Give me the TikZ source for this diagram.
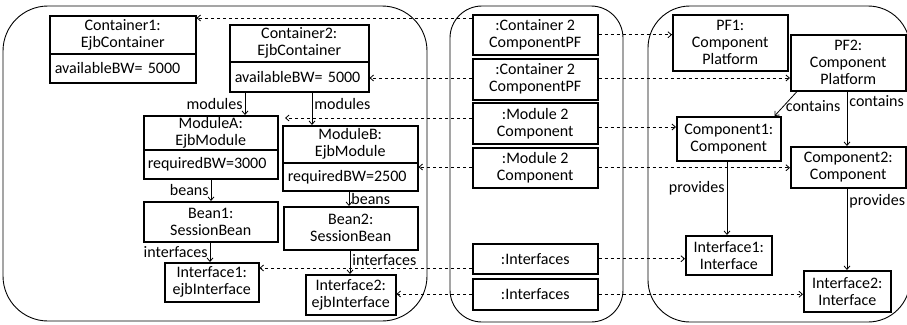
\documentclass[tikz,border=0pt]{standalone}
\usepackage{fontspec}
\setmainfont{Carlito}
\usetikzlibrary{arrows.meta,calc}
\begin{document}
\begin{tikzpicture}[x=1pt,y=-1pt,
  txt/.style={font=\fontsize{16}{17}\selectfont},
  obj/.style={txt, draw, line width=1.5pt, anchor=north west, align=center, inner sep=0pt},
  attr/.style={obj, align=left, inner xsep=5pt},
  panel/.style={draw, line width=0.9pt},
  link/.style={line width=0.8pt, -{Straight Barb[length=3.5pt,width=6pt]}},
  trace/.style={link, dash pattern=on 3.5pt off 2.5pt},
  lbl/.style={txt, inner sep=2pt}
]
\useasboundingbox (0,0) rectangle (907,324);
\clip (0,0) rectangle (907,324);

% three model areas
\draw[panel, rounded corners=45pt] (3,6) rectangle (427,321);
\draw[panel, rounded corners=32pt] (450,6) rectangle (623,322);
\draw[panel, rounded corners=42pt] (648,6) rectangle (910,322);

% EJB model
\node[obj, minimum width=146pt, minimum height=38pt] (c1) at (49,15) {Container1:\\EjbContainer};
\node[attr, text width=136pt, minimum height=29pt] (c1a) at (49,53) {availableBW= 5000};
\node[obj, minimum width=139pt, minimum height=37pt] (c2) at (229,24) {Container2:\\EjbContainer};
\node[attr, text width=129pt, minimum height=30pt] (c2a) at (229,61) {availableBW= 5000};
\node[obj, minimum width=134pt, minimum height=34pt] (mA) at (143,115) {ModuleA:\\EjbModule};
\node[attr, text width=126pt, inner xsep=4pt, minimum height=29pt] (mAa) at (143,149) {requiredBW=3000};
\node[obj, minimum width=135pt, minimum height=37pt] (mB) at (282,125) {ModuleB:\\EjbModule};
\node[attr, text width=125pt, minimum height=28pt] (mBa) at (282,162) {requiredBW=2500};
\node[obj, minimum width=134pt, minimum height=40pt] (b1) at (143,201) {Bean1:\\SessionBean};
\node[obj, minimum width=134pt, minimum height=43pt] (b2) at (283,206) {Bean2:\\SessionBean};
\node[obj, minimum width=94pt, minimum height=39pt] (i1) at (164,262) {Interface1:\\ejbInterface};
\node[obj, minimum width=90pt, minimum height=40pt] (i2) at (305,274) {Interface2:\\ejbInterface};

% trace links
\node[obj, minimum width=125pt, minimum height=40pt] (t1) at (472,14) {:Container 2\\ComponentPF};
\node[obj, minimum width=125pt, minimum height=41pt] (t2) at (472,58) {:Container 2\\ComponentPF};
\node[obj, minimum width=125pt, minimum height=41pt] (t3) at (472,102) {:Module 2\\Component};
\node[obj, minimum width=125pt, minimum height=40pt] (t4) at (472,147) {:Module 2\\Component};
\node[obj, minimum width=125pt, minimum height=30pt] (t5) at (472,243) {:Interfaces};
\node[obj, minimum width=125pt, minimum height=31pt] (t6) at (472,278) {:Interfaces};

% component model
\node[obj, minimum width=115pt, minimum height=56pt] (pf1) at (672,14) {PF1:\\Component\\Platform};
\node[obj, minimum width=115pt, minimum height=56pt] (pf2) at (790,34) {PF2:\\Component\\Platform};
\node[obj, minimum width=104pt, minimum height=44pt] (k1) at (676,116) {Component1:\\Component};
\node[obj, minimum width=115pt, minimum height=41pt] (k2) at (790,146) {Component2:\\Component};
\node[obj, minimum width=86pt, minimum height=39pt] (f1) at (685,235) {Interface1:\\Interface};
\node[obj, minimum width=87pt, minimum height=41pt] (f2) at (803,270) {Interface2:\\Interface};

% containment links, EJB side
\draw[link] (c2a.south -| 245,0) -- (mA.north -| 245,0) node[lbl, midway, anchor=east] {modules};
\draw[link] (c2a.south -| 312,0) -- (mB.north -| 312,0) node[lbl, pos=0.35, anchor=west] {modules};
\draw[link] (mAa.south -| 211,0) -- (b1.north -| 211,0) node[lbl, midway, anchor=east] {beans};
\draw[link] (mBa.south -| 349,0) -- (b2.north -| 349,0) node[lbl, midway, anchor=west] {beans};
\draw[link] (b1.south -| 210,0) -- (i1.north -| 210,0) node[lbl, midway, anchor=east] {interfaces};
\draw[link] (b2.south -| 350,0) -- (i2.north -| 350,0) node[lbl, pos=0.4, anchor=west] {interfaces};

% containment links, component side
\draw[link] ($(pf2.south west)+(7,0)$) -- ($(k1.north east)+(-7,0)$) node[lbl, pos=0.6, anchor=west] {contains};
\draw[link] (pf2.south -| 847,0) -- (k2.north -| 847,0) node[lbl, pos=0.18, anchor=west] {contains};
\draw[link] (k1.south -| 727,0) -- (f1.north -| 727,0) node[lbl, pos=0.37, anchor=east] {provides};
\draw[link] (k2.south -| 847,0) -- (f2.north -| 847,0) node[lbl, pos=0.16, anchor=west] {provides};

% trace references
\coordinate (mtip) at ($(mB.north west)+(3,-7)$);
\draw[trace] (t1.west |- 0,18) -- (c1.east |- 0,18);
\draw[trace] (t1.east) -- (pf1.west |- t1.east);
\draw[trace] (t2.west |- 0,78) -- (c2a.east |- 0,78);
\draw[trace] (t2.east |- 0,78) -- (pf2.west |- 0,78);
\draw[trace] (t3.west |- mtip) -- (mtip);
\draw[trace] (t3.east |- 0,127) -- (k1.west |- 0,127);
\draw[trace] (t4.west |- 0,167) -- (mBa.east |- 0,167);
\draw[trace] (t4.east) -- (k2.west |- t4.east);
\draw[trace] (t5.west |- 0,268) -- (i1.east |- 0,268);
\draw[trace] (t5.east) -- (f1.west |- t5.east);
\draw[trace] (t6.west |- 0,294) -- (i2.east |- 0,294);
\draw[trace] (t6.east) -- (f2.west |- t6.east);
\end{tikzpicture}
\end{document}
